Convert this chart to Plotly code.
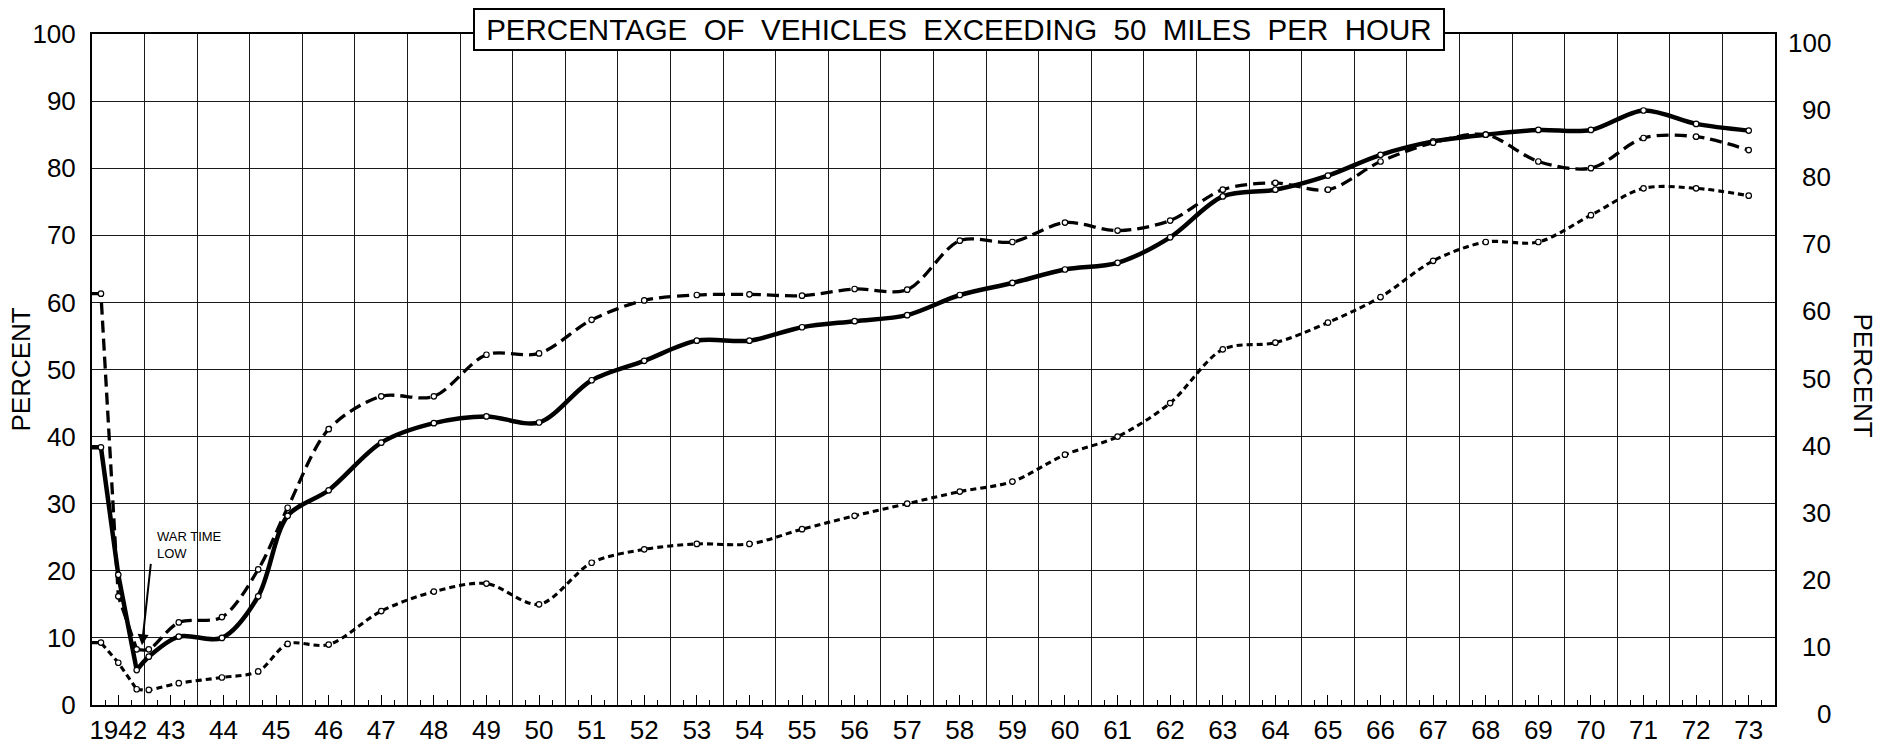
import plotly.graph_objects as go

# ---------------- data ----------------
years = [1942.0, 1942.17, 1942.5, 1942.85, 1943.08, 1943.65, 1944.47, 1945.16, 1945.72, 1946.5,
         1947.5, 1948.5, 1949.5, 1950.5, 1951.5, 1952.5, 1953.5, 1954.5, 1955.5, 1956.5,
         1957.5, 1958.5, 1959.5, 1960.5, 1961.5, 1962.5, 1963.5, 1964.5, 1965.5, 1966.5,
         1967.5, 1968.5, 1969.5, 1970.5, 1971.5, 1972.5, 1973.5]

solid_pct = [38.4, 38.4, 19.4, 5.2, 7.2, 10.2, 10.0, 16.2, 28.2, 32.0,
             39.1, 42.0, 43.0, 42.1, 48.4, 51.3, 54.3, 54.3, 56.3, 57.2,
             58.1, 61.1, 62.9, 64.9, 65.9, 69.7, 75.8, 76.8, 78.9, 82.0,
             84.0, 85.0, 85.7, 85.7, 88.6, 86.6, 85.6]

long_dash_pct = [61.3, 61.3, 16.2, 8.3, 8.3, 12.3, 13.1, 20.2, 29.4, 41.1,
                 46.0, 46.0, 52.2, 52.4, 57.4, 60.3, 61.1, 61.2, 61.0, 62.0,
                 61.9, 69.2, 69.0, 71.9, 70.7, 72.2, 76.8, 77.8, 76.8, 81.0,
                 83.8, 85.0, 81.0, 80.0, 84.5, 84.7, 82.7]

short_dash_pct = [9.3, 9.3, 6.3, 2.35, 2.25, 3.25, 4.1, 5.0, 9.1, 9.0,
                  14.0, 16.9, 18.1, 15.0, 21.2, 23.2, 24.0, 24.0, 26.2, 28.2,
                  30.0, 31.8, 33.3, 37.3, 40.0, 45.0, 53.0, 54.0, 57.0, 60.8,
                  66.2, 69.0, 69.0, 73.0, 77.0, 77.0, 75.9]

year_tick_positions = [1942.5, 1943.5, 1944.5, 1945.5, 1946.5, 1947.5, 1948.5, 1949.5,
                       1950.5, 1951.5, 1952.5, 1953.5, 1954.5, 1955.5, 1956.5, 1957.5,
                       1958.5, 1959.5, 1960.5, 1961.5, 1962.5, 1963.5, 1964.5, 1965.5,
                       1966.5, 1967.5, 1968.5, 1969.5, 1970.5, 1971.5, 1972.5, 1973.5]
year_tick_labels = ["1942", "43", "44", "45", "46", "47", "48", "49", "50", "51", "52",
                    "53", "54", "55", "56", "57", "58", "59", "60", "61", "62", "63",
                    "64", "65", "66", "67", "68", "69", "70", "71", "72", "73"]
percent_ticks = [0, 10, 20, 30, 40, 50, 60, 70, 80, 90, 100]

title_text = "PERCENTAGE OF VEHICLES EXCEEDING 50 MILES PER HOUR"
war_low_year = 1942.95
war_low_value = 8.9

# ---------------- figure ----------------
FONT = "Liberation Sans, Arial, sans-serif"
INK = "black"

series = [
    (solid_pct, 4.5, "solid"),
    (long_dash_pct, 3.3, "12px,6px"),
    (short_dash_pct, 3.1, "6px,4px"),
]

fig = go.Figure()
N_LIN = 4  # steep war-time drop drawn with straight segments
for vals, w, dash in series:
    fig.add_trace(go.Scatter(x=years[:N_LIN], y=vals[:N_LIN], mode="lines",
                             line=dict(color=INK, width=w, dash=dash, shape="linear"),
                             hoverinfo="skip", showlegend=False))
    fig.add_trace(go.Scatter(x=years[N_LIN - 1:], y=vals[N_LIN - 1:], mode="lines",
                             line=dict(color=INK, width=w, dash=dash, shape="spline", smoothing=0.9),
                             hoverinfo="skip", showlegend=False))
for vals, w, dash in series:
    fig.add_trace(go.Scatter(x=years[1:], y=vals[1:], mode="markers", xaxis="x2", yaxis="y",
                             marker=dict(symbol="circle", size=5.5, color="white",
                                         line=dict(color=INK, width=1.2)),
                             hoverinfo="skip", showlegend=False))

annotations = []
# title box
annotations.append(dict(
    xref="paper", yref="paper", x=0.5154, y=1, yshift=5,
    xanchor="center", yanchor="middle", showarrow=False,
    text="\u00a0" + title_text.replace(" ", "\u00a0\u00a0") + "\u00a0",
    font=dict(family=FONT, size=29.5, color=INK),
    bgcolor="white", bordercolor=INK, borderwidth=2, borderpad=3))
# axis titles
annotations.append(dict(xref="paper", yref="paper", x=0, xshift=-72, y=0.5,
                        xanchor="center", yanchor="middle", showarrow=False, textangle=-90,
                        text="PERCENT", font=dict(family=FONT, size=26, color=INK)))
annotations.append(dict(xref="paper", yref="paper", x=1, xshift=88, y=0.5, yshift=-6,
                        xanchor="center", yanchor="middle", showarrow=False, textangle=90,
                        text="PERCENT", font=dict(family=FONT, size=26, color=INK)))
# right-side tick labels (right-aligned, slightly offset as in the original)
for v in percent_ticks:
    annotations.append(dict(xref="paper", yref="y", x=1, xshift=58, y=v, yshift=-9,
                            xanchor="right", yanchor="middle", showarrow=False,
                            text=str(v), font=dict(family=FONT, size=26, color=INK)))
# war time low
annotations.append(dict(xref="x", yref="y", x=1943.2, y=23.8, xanchor="left", yanchor="middle",
                        align="left", showarrow=False, text="WAR TIME<br>LOW",
                        font=dict(family=FONT, size=13, color=INK)))
annotations.append(dict(xref="x", yref="y", x=war_low_year, y=war_low_value,
                        axref="pixel", ayref="pixel", ax=9, ay=-83, text="",
                        showarrow=True, arrowhead=2, arrowsize=1.1, arrowwidth=2,
                        arrowcolor=INK))

grid_col = "#1a1a1a"
fig.update_layout(
    width=1885, height=748, autosize=False,
    margin=dict(l=92, r=110, t=34, b=43, pad=0, autoexpand=False),
    paper_bgcolor="white", plot_bgcolor="white",
    showlegend=False,
    font=dict(family=FONT, color=INK),
    xaxis=dict(range=[1942, 1974], tickmode="linear", tick0=1942, dtick=1,
               showgrid=True, gridcolor=grid_col, gridwidth=1, automargin=False,
               showticklabels=False, ticks="", zeroline=False,
               showline=True, linecolor=INK, linewidth=2, mirror=True,
               minor=dict(tickmode="linear", tick0=1942, dtick=0.25, ticks="inside",
                          ticklen=5, tickwidth=1, tickcolor=INK, showgrid=False)),
    xaxis2=dict(overlaying="x", anchor="y", side="bottom", range=[1942, 1974],
                tickmode="array", tickvals=year_tick_positions, ticktext=year_tick_labels,
                ticks="inside", ticklen=10, tickwidth=1, tickcolor=INK, automargin=False,
                showgrid=False, showline=False, zeroline=False,
                tickfont=dict(family=FONT, size=26, color=INK), ticklabelstandoff=7),
    yaxis=dict(range=[0, 100], tickmode="array", tickvals=percent_ticks, automargin=False,
               showgrid=True, gridcolor=grid_col, gridwidth=1, ticks="",
               zeroline=False, showline=True, linecolor=INK, linewidth=2, mirror=True,
               tickfont=dict(family=FONT, size=26, color=INK), ticklabelstandoff=9),
    annotations=annotations,
)

fig.write_html("out.html", config={"displayModeBar": False},
               post_script="document.body.style.margin='0';")
